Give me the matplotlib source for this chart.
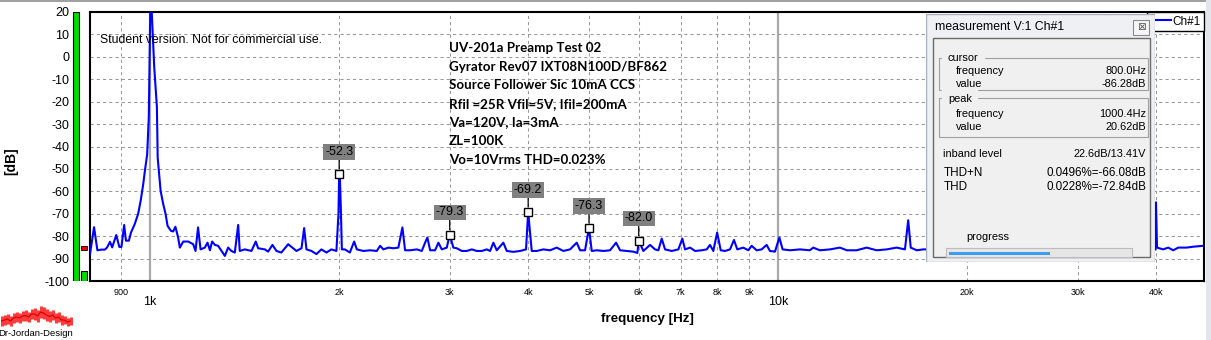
import matplotlib.pyplot as plt
from matplotlib.patches import Rectangle

# ---------------- data ---------------- #

freq_hz = [
    802, 814, 824, 836, 847, 854, 863, 870, 883, 893, 900, 909, 915, 925, 932, 945, 957, 966, 975, 981,
    989, 995, 1000.4, 1006, 1015, 1025, 1028, 1039, 1049, 1058, 1066, 1079, 1088, 1097, 1108, 1115, 1129,
    1150, 1171, 1181, 1192, 1203, 1222, 1234, 1245, 1255, 1268, 1283, 1299, 1315, 1331, 1347, 1364, 1381,
    1389, 1415, 1450, 1473, 1486, 1523, 1541, 1566, 1589, 1618, 1659, 1689, 1710, 1742, 1759, 1774, 1807,
    1840, 1874, 1909, 1944, 1980, 1995, 2000, 2006, 2012, 2020, 2042, 2080, 2113, 2134, 2186, 2240, 2296,
    2324, 2352, 2396, 2440, 2485, 2522, 2547, 2594, 2659, 2708, 2741, 2764, 2792, 2843, 2878, 2914, 2968,
    3000, 3040, 3079, 3136, 3194, 3253, 3313, 3374, 3437, 3479, 3521, 3565, 3652, 3698, 3789, 3883, 3969,
    4000, 4053, 4128, 4229, 4334, 4442, 4551, 4664, 4780, 4839, 4928, 5000, 5050, 5144, 5270, 5401, 5522,
    5604, 5742, 5883, 5970, 6000, 6103, 6255, 6370, 6448, 6529, 6608, 6773, 6939, 7041, 7111, 7243, 7377,
    7560, 7699, 7793, 7888, 8000, 8105, 8234, 8386, 8509, 8613, 8804, 8967, 9079, 9247, 9418, 9592, 9709,
    9889, 10050, 10170, 10450, 10840, 11240, 11380, 11660, 12100, 12550, 12870, 13340, 13840, 14360, 14900,
    15450, 15930, 16120, 16270, 16630, 17030, 20000, 30000, 39900, 40000, 40150, 41070, 41830, 42610,
    43400, 44750, 45850, 47560,
]
level_db = [
    -88, -76, -86.3, -86, -86, -85, -82.5, -85, -79.5, -84.8, -84.8, -75, -82, -82, -78.4, -74.6, -70, -64,
    -56.7, -50.7, -43.6, -27, 20.62, 19.5, -4.5, -22.4, -45, -59.7, -65.7, -70, -75.4, -77.6, -77.9, -75.8,
    -80.6, -85.1, -82.4, -82.4, -83.6, -86.6, -76.1, -85.9, -85.1, -82.9, -86.3, -82.4, -83.9, -84.3, -86.6,
    -88.8, -85.1, -86.6, -87.3, -75, -86.6, -85.9, -86.6, -82.4, -85.4, -85.9, -86.9, -83.9, -86.6, -87.3,
    -83.6, -85.4, -86.6, -85.4, -76.4, -85.9, -86.6, -88, -85.9, -87.3, -85.9, -86.6, -70, -52.3, -55, -67,
    -85.9, -85.9, -87.3, -82.4, -85.9, -86.6, -86.3, -86.6, -84.3, -85.9, -85.1, -85.4, -85.1, -76.1, -86.3,
    -86.3, -85.9, -86.6, -82.9, -80.6, -86.3, -86.3, -82.9, -85.9, -85.1, -79.3, -85.1, -85.4, -86.6, -86.6,
    -85.9, -86.6, -86.6, -85.9, -86.6, -82.9, -86.3, -82.9, -86.6, -87, -86.6, -85.9, -69.2, -86.6, -86.6,
    -85.9, -86.3, -85.1, -86.6, -85.9, -82.9, -86.3, -86.3, -76.3, -86.6, -86.3, -86.6, -86.3, -82.9, -86.3,
    -86.6, -86.9, -87.5, -82.0, -86.6, -83.9, -85.9, -86.3, -81.1, -85.9, -86.6, -85.9, -81.1, -85.9, -85.1,
    -86.6, -86.3, -85.9, -83.9, -86.6, -78.4, -86.3, -86.6, -85.9, -81.7, -85.9, -85.1, -86.3, -84.3, -86.3,
    -85.9, -83.9, -86.6, -86.9, -80.6, -85.9, -86.3, -85.9, -86.3, -85.1, -86.3, -85.9, -85.1, -86.3, -86.3,
    -85.1, -86.3, -85.9, -85.1, -85.9, -72.9, -85.1, -86.3, -85.9, -86, -86, -86, -64.9, -85.1, -85.9, -85.1,
    -86.3, -85.1, -85.1, -84.7, -84.3,
]

harmonic_freqs = [2000, 3000, 4000, 5000, 6000]
harmonic_levels = [-52.3, -79.3, -69.2, -76.3, -82.0]

y_ticks = list(range(-100, 21, 10))
major_ticks = [1000, 10000]
major_labels = ['1k', '10k']
minor_ticks = [900, 2000, 3000, 4000, 5000, 6000, 7000, 8000, 9000, 20000, 30000, 40000]
minor_labels = ['900', '2k', '3k', '4k', '5k', '6k', '7k', '8k', '9k', '20k', '30k', '40k']

meter_levels = [20, -95.5]
meter_hold = -85.2

notes = [
    'UV-201a Preamp Test 02',
    'Gyrator Rev07 IXT08N100D/BF862',
    'Source Follower Sic 10mA CCS',
    'Rfil =25R Vfil=5V, Ifil=200mA',
    'Va=120V, Ia=3mA',
    'ZL=100K',
    'Vo=10Vrms THD=0.023%',
]

cursor_rows = [('frequency', '800.0Hz'), ('value', '-86.28dB')]
peak_rows = [('frequency', '1000.4Hz'), ('value', '20.62dB')]
result_rows = [('THD+N', '0.0496%=-66.08dB'), ('THD', '0.0228%=-72.84dB')]
inband_level = '22.6dB/13.41V'
progress = 0.56

logo_top = [316, 315, 314, 316, 313, 312, 313, 311, 310, 312, 309, 308, 310, 306, 307, 309, 311, 310,
            313, 312, 315, 316, 318, 317]
logo_bottom = [326, 325, 324, 326, 323, 322, 323, 321, 321, 322, 319, 320, 322, 318, 319, 321, 322, 320,
               323, 322, 325, 324, 326, 325]

# ---------------- figure ---------------- #

W, H = 1211, 340
FONT = 'Liberation Sans'
plt.rcParams['font.family'] = [FONT, 'DejaVu Sans']
plt.rcParams['axes.unicode_minus'] = False


def fig_rect(x0, y0, x1, y1):
    # pixel box (top-left origin) -> figure fraction rect
    return [x0 / W, 1 - y1 / H, (x1 - x0) / W, (y1 - y0) / H]


fig = plt.figure(figsize=(W / 100, H / 100), dpi=100)
fig.patch.set_facecolor('white')

ax = fig.add_axes(fig_rect(90, 12, 1204, 281))
ax.set_xscale('log')
ax.set_xlim(802, 47700)
ax.set_ylim(-100, 20)

ax.plot(freq_hz, level_db, color='#0000ff', lw=1.5, label='Ch#1', zorder=3)

ax.set_yticks(y_ticks)
ax.set_xticks(major_ticks, major_labels)
ax.set_xticks(minor_ticks, minor_labels, minor=True)
ax.tick_params(axis='y', length=0, pad=15, labelsize=9)
ax.tick_params(axis='x', which='major', length=0, pad=11, labelsize=9)
ax.tick_params(axis='x', which='minor', length=0, pad=5, labelsize=6.5)

ax.grid(which='major', axis='x', color='#a9a9a9', lw=1.6, ls='-')
ax.grid(which='minor', axis='x', color='#999999', lw=0.75, ls=(0, (3, 3)))
ax.grid(which='major', axis='y', color='#999999', lw=0.75, ls=(0, (3, 3)))
ax.set_axisbelow(True)
for s in ax.spines.values():
    s.set_linewidth(1.5)
    s.set_color('black')

ax.set_xlabel('frequency [Hz]', fontsize=9.6, fontweight='bold')
ax.xaxis.set_label_coords(0.5, -0.118)
fig.text(11 / W, 1 - 161 / H, '[dB]', rotation=90, ha='center', va='center',
         fontsize=10, fontweight='bold')

# harmonic markers
ax.plot(harmonic_freqs, harmonic_levels, ls='none', marker='s', ms=5.5, mfc='white',
        mec='black', mew=1, zorder=4)
for f, v in zip(harmonic_freqs, harmonic_levels):
    ax.annotate(f'{v:.1f}', xy=(f, v), xytext=(0, 16), textcoords='offset points',
                ha='center', va='center', fontsize=9, zorder=5,
                bbox=dict(boxstyle='square,pad=0.15', fc='#808080', ec='none'),
                arrowprops=dict(arrowstyle='-', color='black', lw=0.9, shrinkA=0, shrinkB=3.5))

ax.text(10 / 1114, 1 - 28 / 269, 'Student version. Not for commercial use.', transform=ax.transAxes,
        fontsize=8.8, va='center', ha='left')

for i, line in enumerate(notes):
    ax.text((449 - 90) / 1114, 1 - (36 + i * 18.6) / 269, line, transform=ax.transAxes,
            fontsize=9.6, fontweight='bold', family='Lato', va='center', ha='left')

leg = ax.legend(loc='upper right', bbox_to_anchor=(1, 1), borderaxespad=0, fancybox=False,
                edgecolor='black', framealpha=1, fontsize=8.5, handlelength=1.7,
                handletextpad=0.1, borderpad=0.3)
leg.get_frame().set_linewidth(1)

# level meter
axm = fig.add_axes(fig_rect(72, 12, 88, 281))
axm.set_xlim(0, 16)
axm.set_ylim(-100, 20)
axm.axis('off')
axm.bar([4, 11.5], [lv + 100 for lv in meter_levels], bottom=-100, width=[6, 6],
        color='#00dd00', edgecolor='black', lw=0.8)
axm.bar([11.5], [1.6], bottom=meter_hold - 0.8, width=6, color='#ee0000', edgecolor='black', lw=0.6)

# measurement window
axw = fig.add_axes(fig_rect(926, 14, 1155, 262), zorder=10)
axw.set_xlim(0, 229)
axw.set_ylim(248, 0)
axw.axis('off')
axw.add_patch(Rectangle((0, 0), 229, 248, fc='#eef0f3', ec='#a8b0bb', lw=1))
axw.text(9, 13, 'measurement V:1 Ch#1', fontsize=8.8, va='center', ha='left')
axw.add_patch(Rectangle((207, 5.5), 16, 15.5, fc='#f6f6f6', ec='#8a8a8a', lw=0.8))
axw.text(215, 13.3, '⊠', family='DejaVu Sans', fontsize=7.5, color='#555555', ha='center', va='center')
axw.add_patch(Rectangle((6.7, 24.3), 217.3, 219, fc='#f0f0f0', ec='#6a6a6a', lw=1))

fs = 7.9
axw.add_patch(Rectangle((13.3, 43.7), 209, 32.3, fc='none', ec='#a0a0a0', lw=0.8))
axw.text(22, 44, 'cursor', fontsize=fs, va='center', ha='left', backgroundcolor='#f0f0f0')
for i, (k, v) in enumerate(cursor_rows):
    axw.text(29.7, 57 + i * 12.7, k, fontsize=fs, va='center', ha='left')
    axw.text(220, 57 + i * 12.7, v, fontsize=fs, va='center', ha='right')

axw.add_patch(Rectangle((13.3, 84.3), 209, 39, fc='none', ec='#a0a0a0', lw=0.8))
axw.text(22, 85, 'peak', fontsize=fs, va='center', ha='left', backgroundcolor='#f0f0f0')
for i, (k, v) in enumerate(peak_rows):
    axw.text(29.7, 100.3 + i * 12.4, k, fontsize=fs, va='center', ha='left')
    axw.text(220, 100.3 + i * 12.4, v, fontsize=fs, va='center', ha='right')

axw.text(17.3, 140, 'inband level', fontsize=fs, va='center', ha='left')
axw.text(220, 140, inband_level, fontsize=fs, va='center', ha='right')
for i, (k, v) in enumerate(result_rows):
    axw.text(17.3, 159.3 + i * 14, k, fontsize=8.4, va='center', ha='left')
    axw.text(220, 159.3 + i * 14, v, fontsize=8.4, va='center', ha='right')

axw.text(40.7, 222.7, 'progress', fontsize=fs, va='center', ha='left')
axw.add_patch(Rectangle((20, 234.3), 185.7, 8.4, fc='#e6e6e6', ec='#bcbcbc', lw=0.8))
axw.add_patch(Rectangle((23.3, 237.7), 180 * progress, 3.3, fc='#3c9cf0', ec='none'))

# logo
axl = fig.add_axes(fig_rect(0, 303, 73, 328))
axl.set_xlim(0, 73)
axl.set_ylim(328, 303)
axl.axis('off')
xs = [1.5 + 3 * i for i in range(len(logo_top))]
axl.vlines(xs, logo_top, logo_bottom, color='#ff3b3b', lw=2.2)
axl.plot(xs, [(a + b) / 2 for a, b in zip(logo_top, logo_bottom)], color='#d00000', lw=0.8)
fig.text(36 / W, 1 - 333 / H, 'Dr-Jordan-Design', fontsize=6.8, ha='center', va='center')

# window chrome strips
fig.add_artist(Rectangle((0, 1 - 2 / H), 1, 2 / H, transform=fig.transFigure, fc='#a0a0a0', ec='none'))
fig.add_artist(Rectangle((1206 / W, 0), 5 / W, 1, transform=fig.transFigure, fc='#e2e6ec', ec='none'))

fig.savefig('out.png', dpi=100)
